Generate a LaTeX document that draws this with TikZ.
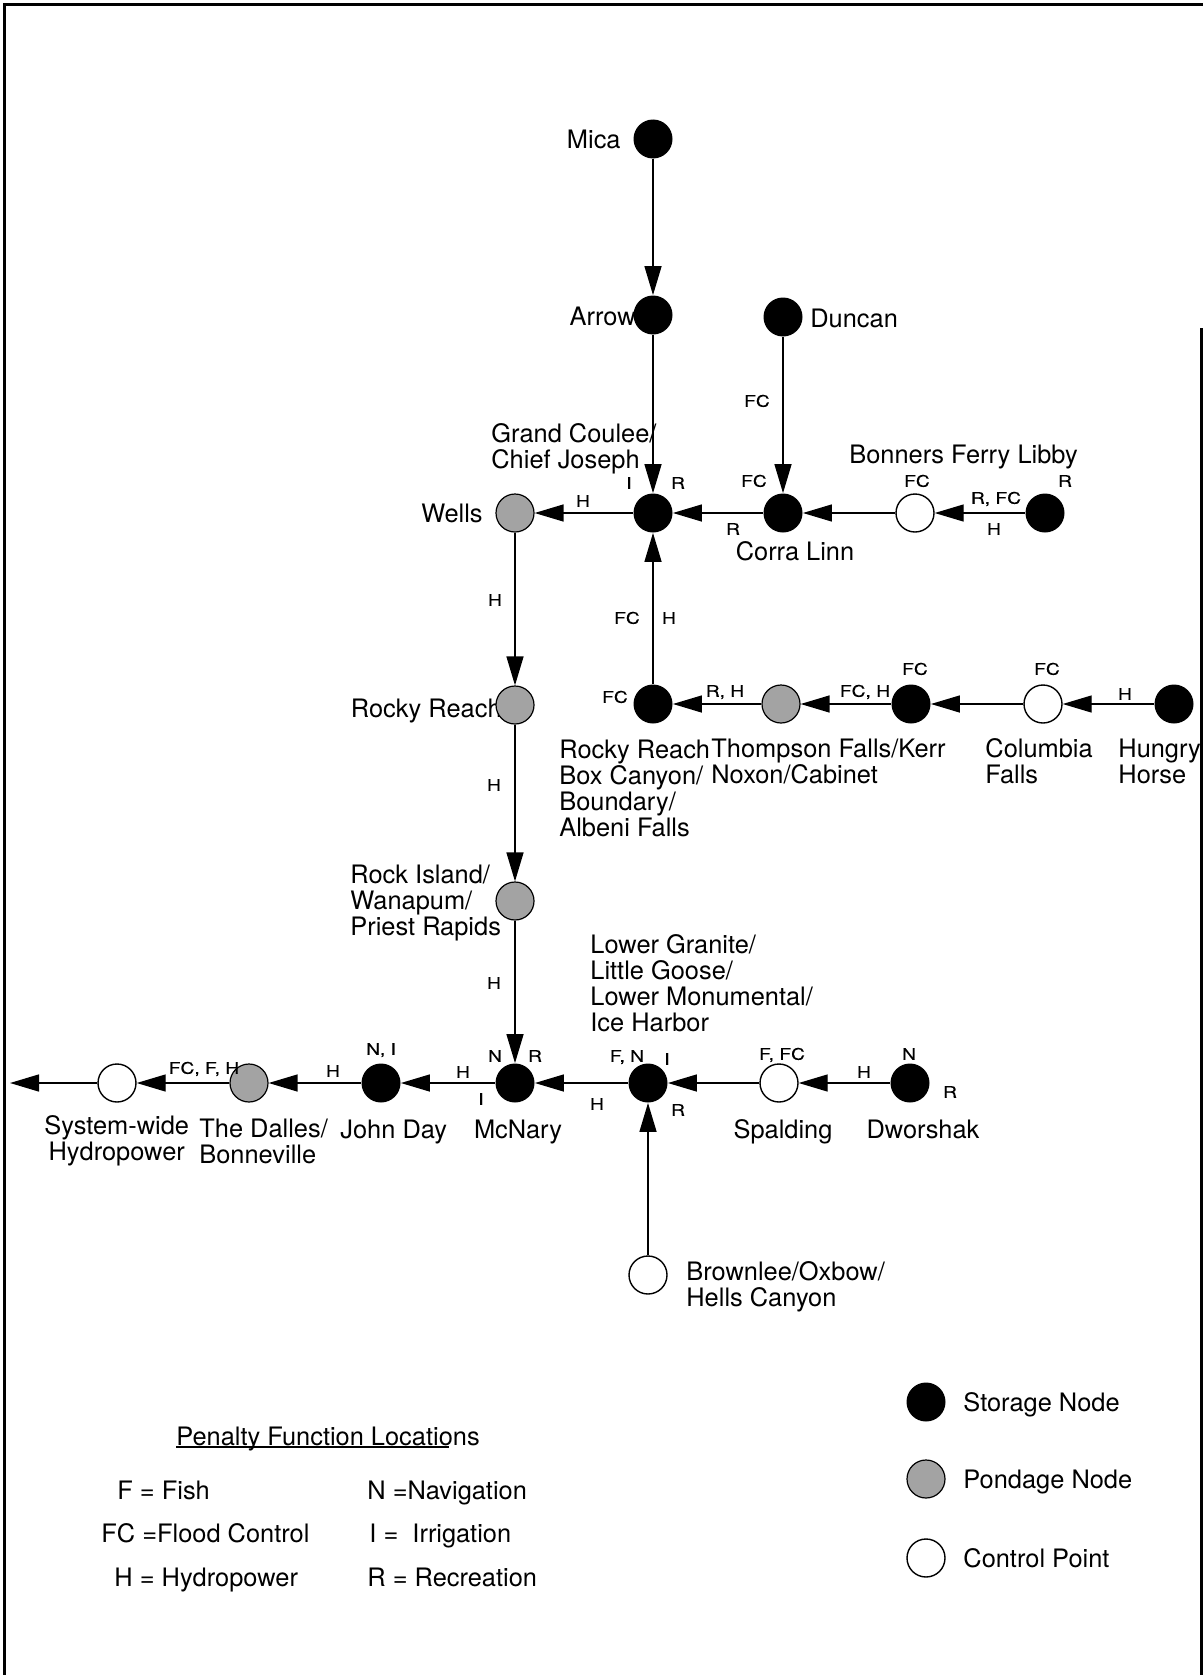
\documentclass[tikz,border=0pt]{standalone}
\usepackage{fontspec}
\setmainfont{TeX Gyre Heros}
\newfontfamily\smallf[FakeStretch=1.2,FakeBold=0.4]{TeX Gyre Heros}
\usetikzlibrary{arrows.meta}
\begin{document}
\begin{tikzpicture}[x=0.5pt,y=-0.5pt,
  storage/.style={circle,fill=black,minimum size=19.5pt,inner sep=0pt},
  pondage/.style={circle,draw=black,line width=0.6pt,fill=black!36,minimum size=19pt,inner sep=0pt},
  control/.style={circle,draw=black,line width=0.7pt,fill=white,minimum size=19pt,inner sep=0pt},
  lbl/.style={inner sep=0pt,font=\fontsize{12.7pt}{13pt}\selectfont,text height=9.1pt,text depth=0pt},
  mlbl/.style={inner sep=0pt,font=\fontsize{12.7pt}{13pt}\selectfont,align=left,anchor=west},
  pf/.style={inner sep=0pt,font=\smallf\fontsize{8pt}{8pt}\selectfont,text height=5.75pt,text depth=0pt},
  flow/.style={line width=0.7pt,-{Triangle[length=14.5pt,width=8.5pt]}},
  frame/.style={line width=1.5pt}
]
\useasboundingbox (0,0) rectangle (1203,1675);
\draw[frame] (4,1675) -- (4,5) -- (1203,5);
\draw[frame] (1201,328) -- (1201,1675);

% ---- node labels ----
\node[lbl,anchor=east] (tmica) at (621,139) {Mica};
\node[lbl,anchor=east] (tarrow) at (636,316) {Arrow};
\node[lbl,anchor=west] (tduncan) at (810,318) {Duncan};
\node[mlbl] (tgc) at (491,449) {Grand Coulee/\\Chief Joseph};
\node[lbl,anchor=east] (twells) at (483,513) {Wells};
\node[lbl] (tcorra) at (795,551) {Corra Linn};
\node[lbl,anchor=west] (tbonners) at (849,454) {Bonners Ferry Libby};
\node[lbl,anchor=east] (trrp) at (502,708) {Rocky Reach};
\node[mlbl] (trrs) at (559,788) {Rocky Reach\\Box Canyon/\\Boundary/\\Albeni Falls};
\node[mlbl] (tthomp) at (711,761) {Thompson Falls/Kerr\\Noxon/Cabinet};
\node[mlbl] (tcolf) at (985,761) {Columbia\\Falls};
\node[mlbl] (thh) at (1118,761) {Hungry\\Horse};
\node[mlbl] (tri) at (350,903) {Rock Island/\\Wanapum/\\Priest Rapids};
\node[mlbl] (tlg) at (590,983) {Lower Granite/\\Little Goose/\\Lower Monumental/\\Ice Harbor};
\node[mlbl] (tsys) at (44,1141) {System-wide\\\,Hydropower};
\node[mlbl] (tdal) at (199,1141) {The Dalles/\\Bonneville};
\node[lbl,anchor=west] (tjd) at (340,1129) {John Day};
\node[lbl] (tmcn) at (518,1129) {McNary};
\node[lbl] (tspal) at (783,1129) {Spalding};
\node[lbl] (tdwor) at (923,1129) {Dworshak};
\node[mlbl] (tbrown) at (686,1287) {Brownlee/Oxbow/\\Hells Canyon};

% ---- nodes ----
\node[storage] (mica) at (653,139) {};
\node[storage] (arrow) at (653,315) {};
\node[storage] (duncan) at (783,317) {};
\node[storage] (gc) at (653,513) {};
\node[pondage] (wells) at (515,513) {};
\node[storage] (corra) at (783,513) {};
\node[control] (bonners) at (915,513) {};
\node[storage] (libby) at (1045,513) {};
\node[pondage] (rrp) at (515,705) {};
\node[storage] (rrs) at (653,704) {};
\node[pondage] (thomp) at (781,704) {};
\node[storage] (kerr) at (911,704) {};
\node[control] (colf) at (1043,704) {};
\node[storage] (hh) at (1174,704) {};
\node[pondage] (ri) at (515,901) {};
\node[storage] (mcn) at (515,1083) {};
\node[storage] (lg) at (648,1083) {};
\node[control] (spal) at (779,1083) {};
\node[storage] (dwor) at (910,1083) {};
\node[storage] (jd) at (381,1083) {};
\node[pondage] (dal) at (249,1083) {};
\node[control] (sys) at (117,1083) {};
\coordinate (out) at (10,1083);
\node[control] (brown) at (648,1275) {};

% ---- connectors ----
\draw[flow] (mica) -- (arrow);
\draw[flow] (arrow) -- (gc);
\draw[flow] (duncan) -- (corra);
\draw[flow] (corra) -- (gc);
\draw[flow] (bonners) -- (corra);
\draw[flow] (libby) -- (bonners);
\draw[flow] (gc) -- (wells);
\draw[flow] (wells) -- (rrp);
\draw[flow] (rrp) -- (ri);
\draw[flow] (ri) -- (mcn);
\draw[flow] (rrs) -- (gc);
\draw[flow] (thomp) -- (rrs);
\draw[flow] (kerr) -- (thomp);
\draw[flow] (colf) -- (kerr);
\draw[flow] (hh) -- (colf);
\draw[flow] (mcn) -- (jd);
\draw[flow] (jd) -- (dal);
\draw[flow] (dal) -- (sys);
\draw[flow] (sys) -- (out);
\draw[flow] (lg) -- (mcn);
\draw[flow] (spal) -- (lg);
\draw[flow] (dwor) -- (spal);
\draw[flow] (brown) -- (lg);

% ---- penalty labels ----
\node[pf] (p1) at (757,401) {FC};
\node[pf] (p2) at (629,483) {I};
\node[pf] (p3) at (678,483) {R};
\node[pf] (p4) at (583,501) {H};
\node[pf] (p5) at (754,481) {FC};
\node[pf] (p6) at (733,529) {R};
\node[pf] (p7) at (917,481) {FC};
\node[pf] (p8) at (996,498) {R, FC};
\node[pf] (p9) at (994,529) {H};
\node[pf] (p10) at (1065,481) {R};
\node[pf] (p11) at (495,600) {H};
\node[pf] (p12) at (627,618) {FC};
\node[pf] (p13) at (669,618) {H};
\node[pf] (p14) at (615,697) {FC};
\node[pf] (p15) at (725,691) {R, H};
\node[pf] (p16) at (865,691) {FC, H};
\node[pf] (p17) at (915,669) {FC};
\node[pf] (p18) at (1047,669) {FC};
\node[pf] (p19) at (1125,694) {H};
\node[pf] (p20) at (494,785) {H};
\node[pf] (p21) at (494,983) {H};
\node[pf] (p22) at (495,1056) {N};
\node[pf] (p23) at (535,1056) {R};
\node[pf] (p24) at (481,1099) {I};
\node[pf] (p25) at (463,1072) {H};
\node[pf] (p26) at (597,1104) {H};
\node[pf] (p27) at (627,1056) {F, N};
\node[pf] (p28) at (667,1059) {I};
\node[pf] (p29) at (678,1110) {R};
\node[pf] (p30) at (381,1049) {N, I};
\node[pf] (p31) at (333,1071) {H};
\node[pf] (p32) at (204,1068) {FC, F, H};
\node[pf] (p33) at (782,1054) {F, FC};
\node[pf] (p34) at (909,1054) {N};
\node[pf] (p35) at (950,1092) {R};
\node[pf] (p36) at (864,1072) {H};

% ---- legend ----
\node[lbl,anchor=base west] (ptitle) at (176,1445) {Penalty Function Locations};
\draw[line width=0.6pt] ([yshift=-1pt]ptitle.base west) -- ++(273,0);
\node[lbl,anchor=west] (lf) at (117,1490) {F = Fish};
\node[lbl,anchor=west] (lfc) at (101,1533) {FC =Flood Control};
\node[lbl,anchor=west] (lh) at (114,1577) {H = Hydropower};
\node[lbl,anchor=west] (ln) at (367,1490) {N =Navigation};
\node[lbl,anchor=west] (li) at (369,1533) {I = \ Irrigation};
\node[lbl,anchor=west] (lr) at (367,1577) {R = Recreation};

\node[storage] (kstor) at (926,1402) {};
\node[pondage] (kpond) at (926,1479) {};
\node[control] (kctrl) at (926,1558) {};
\node[lbl,anchor=west] (tkstor) at (963,1402) {Storage Node};
\node[lbl,anchor=west] (tkpond) at (963,1479) {Pondage Node};
\node[lbl,anchor=west] (tkctrl) at (963,1558) {Control Point};
\end{tikzpicture}
\end{document}
